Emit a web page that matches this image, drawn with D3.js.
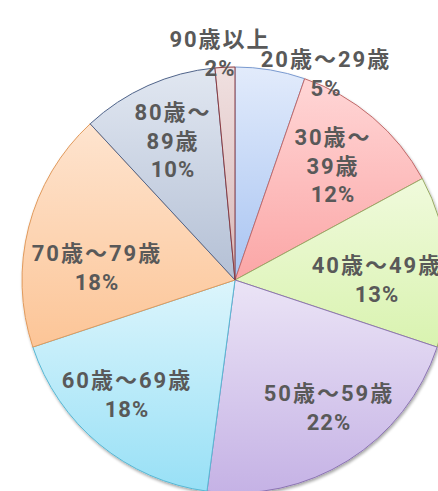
<!DOCTYPE html>
<html><head><meta charset="utf-8">
<script src="https://cdn.jsdelivr.net/npm/d3@7"></script>
<style>
html,body{margin:0;padding:0;background:#fff;}
svg{display:block;}
</style></head>
<body>
<svg id="chart" width="438" height="491"></svg>
<script>
// ---- data ----
const categories = ["20歳～29歳","30歳～39歳","40歳～49歳","50歳～59歳","60歳～69歳","70歳～79歳","80歳～89歳","90歳以上"];
const shares = [5.3, 11.8, 13.0, 22.0, 17.8, 18.2, 10.4, 1.5];
const percentLabels = ["5%","12%","13%","22%","18%","18%","10%","2%"];

// ---- styles / layout (not data) ----
const fillTop    = ["#e2ebfb","#ffd6d6","#f0fadc","#ebe4f6","#dcf5fc","#fee4cf","#e1e7f1","#f0e0e0"];
const fillBottom = ["#a8c4f2","#fba6a6","#d9f3b0","#c5b2e5","#98e0f6","#fcc597","#b4c0d5","#d8b8b8"];
const strokes    = ["#7a9ad0","#c06a6a","#9aaa66","#8c74b3","#58b8d4","#e19a5c","#50648a","#8a3a40"];
// label anchor offsets from pie centre (first line baseline) and line breaking
const labelAnchor = [[91,-213],[98,-135],[142,-7],[94,121],[-108,108],[-138,-19],[-62,-160],[-15,-233]];
const wrapAfterTilde = [false,true,false,false,false,false,true,false];

const W = 438, H = 491, cx = 235, cy = 280, R = 213;
const svg = d3.select("#chart");
const defs = svg.append("defs");

categories.forEach((c,i)=>{
  const g = defs.append("linearGradient").attr("id","grad"+i)
    .attr("x1",0).attr("y1",0).attr("x2",0).attr("y2",1);
  g.append("stop").attr("offset","0%").attr("stop-color",fillTop[i]);
  g.append("stop").attr("offset","100%").attr("stop-color",fillBottom[i]);
});

const f = defs.append("filter").attr("id","shadow").attr("x","-10%").attr("y","-10%").attr("width","120%").attr("height","120%");
f.append("feGaussianBlur").attr("in","SourceAlpha").attr("stdDeviation",1.5).attr("result","b");
f.append("feOffset").attr("in","b").attr("dx",1).attr("dy",1.5).attr("result","o");
f.append("feComponentTransfer").attr("in","o").attr("result","o2")
  .append("feFuncA").attr("type","linear").attr("slope",0.35);
const m = f.append("feMerge");
m.append("feMergeNode").attr("in","o2");
m.append("feMergeNode").attr("in","SourceGraphic");

const pie = d3.pie().sort(null).value(d=>d)(shares);
const arc = d3.arc().innerRadius(0).outerRadius(R);

const g = svg.append("g").attr("transform",`translate(${cx},${cy})`);
g.append("g").attr("filter","url(#shadow)")
  .selectAll("path").data(pie).join("path")
  .attr("d",arc)
  .attr("fill",(d,i)=>`url(#grad${i})`)
  .attr("stroke",(d,i)=>strokes[i])
  .attr("stroke-width",1);

// labels
const fs = 22;
const lh = 28.5;
const lbl = g.append("g")
  .attr("font-family","Roboto,'Noto Sans CJK JP',sans-serif")
  .attr("font-weight","bold").attr("font-size",fs).attr("fill","#595959")
  .attr("text-anchor","middle");

categories.forEach((c,i)=>{
  let lines;
  if (wrapAfterTilde[i]) {
    const k = c.indexOf("～");
    lines = [c.slice(0,k+1), c.slice(k+1)];
  } else lines = [c];
  lines.push(percentLabels[i]);
  const t = lbl.append("text").attr("x",labelAnchor[i][0]).attr("y",labelAnchor[i][1]);
  lines.forEach((s,j)=>{
    t.append("tspan").attr("x",labelAnchor[i][0]).attr("dy", j===0?0:lh)
      .attr("letter-spacing", j===lines.length-1 ? "1px" : "2px")
      .text(s);
  });
});
</script>
</body></html>
